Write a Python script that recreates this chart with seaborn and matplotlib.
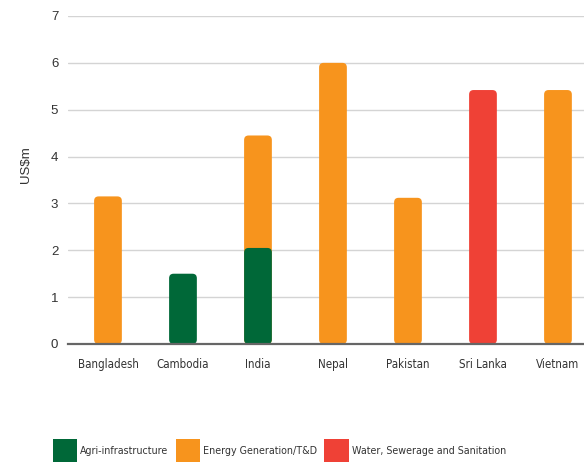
import numpy as np
import pandas as pd
import matplotlib
matplotlib.use("Agg")
import matplotlib.pyplot as plt
from matplotlib.patches import FancyBboxPatch, Rectangle, Patch
from matplotlib import font_manager as fm
import seaborn as sns

countries = ["Bangladesh", "Cambodia", "India", "Nepal", "Pakistan", "Sri Lanka", "Vietnam"]
agri = [0, 1.5, 2.05, 0, 0, 0, 0]
energy = [3.15, 0, 2.4, 6.0, 3.12, 0, 5.42]
water = [0, 0, 0, 0, 0, 5.42, 0]
series_names = ["Agri-infrastructure", "Energy Generation/T&D", "Water, Sewerage and Sanitation"]
colors = ["#006838", "#F7941D", "#EF4136"]
yticks = [0, 1, 2, 3, 4, 5, 6, 7]

sns.set_theme(style="white")
plt.rcParams["font.family"] = ["Liberation Sans", "DejaVu Sans"]


def condensed(size):
    return fm.FontProperties(family="DejaVu Sans", stretch="condensed", size=size)


W, H, DPI = 5.84, 4.62, 100
fig = plt.figure(figsize=(W, H), dpi=DPI)
ax = fig.add_axes([68 / 584, 1 - 344 / 462, 1 - 68 / 584, (344 - 16) / 462])

df = pd.DataFrame({"country": countries, "agri": agri, "energy": energy, "water": water})
# stacked layers drawn back to front, each up to its cumulative top
layers = [
    (df["agri"] + df["energy"] + df["water"], df["water"], colors[2]),
    (df["agri"] + df["energy"], df["energy"], colors[1]),
    (df["agri"], df["agri"], colors[0]),
]
for top, seg, col in layers:
    vals = top.where(seg > 0)
    sns.barplot(x=df["country"], y=vals, order=countries, color=col,
                width=0.37, saturation=1, ax=ax, edgecolor="none", linewidth=0)

xlim = (-0.533, 6.347)
ylim = (0, 7)
ax.set_xlim(*xlim)
ax.set_ylim(*ylim)

# swap the plain bar rectangles for rounded-corner versions
ax_w_px = fig.get_figwidth() * DPI * ax.get_position().width
ax_h_px = fig.get_figheight() * DPI * ax.get_position().height
xpp = (xlim[1] - xlim[0]) / ax_w_px
ypp = (ylim[1] - ylim[0]) / ax_h_px
rad_px = 4.5
for p in list(ax.patches):
    if not isinstance(p, Rectangle):
        continue
    x, y, w, h = p.get_x(), p.get_y(), p.get_width(), p.get_height()
    fc = p.get_facecolor()
    z = p.get_zorder()
    p.remove()
    if not np.isfinite(h) or h <= 0:
        continue
    ax.add_patch(FancyBboxPatch((x, y), w, h,
                                boxstyle=f"round,pad=0,rounding_size={rad_px * xpp}",
                                mutation_aspect=ypp / xpp,
                                facecolor=fc, edgecolor="none", linewidth=0, zorder=z))

ax.set_yticks(yticks)
ax.set_yticklabels([str(t) for t in yticks])
ax.yaxis.grid(True, color="#d4d4d4", linewidth=1.0)
ax.set_axisbelow(True)
for s in ["top", "right", "left"]:
    ax.spines[s].set_visible(False)
ax.spines["bottom"].set_color("#666666")
ax.spines["bottom"].set_linewidth(1.6)
ax.spines["bottom"].set_zorder(5)
ax.tick_params(axis="both", length=0)
ax.tick_params(axis="y", labelsize=9.5, labelcolor="#333333", pad=7)
ax.tick_params(axis="x", labelcolor="#333333", pad=10)
for lab in ax.get_xticklabels():
    lab.set_fontproperties(condensed(8.3))
ax.set_xlabel("")
ax.set_ylabel("US$m", fontsize=9.5, color="#333333")
ax.yaxis.set_label_coords(-0.07, 0.546)

handles = [Patch(facecolor=c, edgecolor="none") for c in colors]
leg = fig.legend(handles, series_names, loc="lower left",
                 bbox_to_anchor=(53 / 584, 0 / 462), ncol=3, frameon=False,
                 prop=condensed(7.7),
                 handlelength=2.25, handleheight=2.95,
                 handletextpad=0.28, columnspacing=0.7, borderaxespad=0,
                 borderpad=0.0)
for t in leg.get_texts():
    t.set_color("#333333")

fig.savefig("out.png", dpi=DPI, facecolor="white")
